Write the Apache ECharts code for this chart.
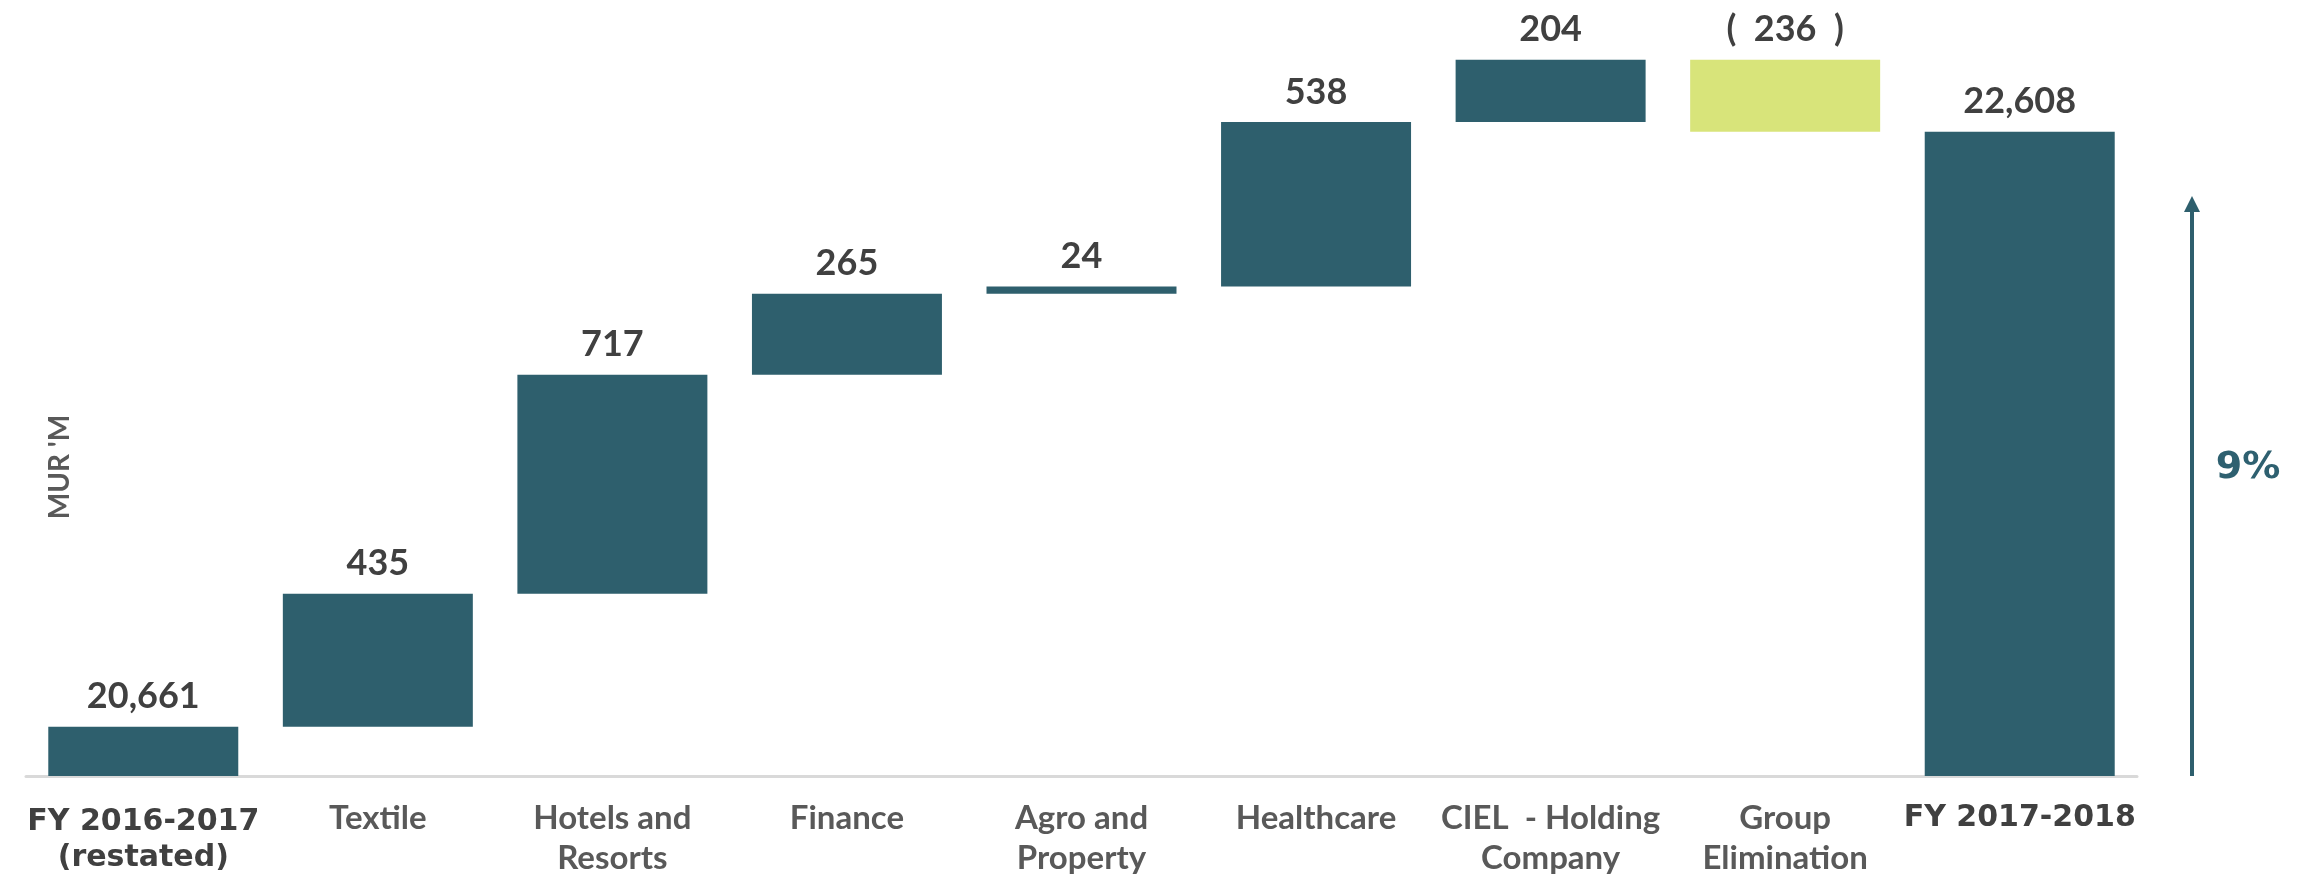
<!DOCTYPE html>
<html>
<head>
<meta charset="utf-8">
<script src="https://cdn.jsdelivr.net/npm/echarts@6/dist/echarts.min.js"></script>
<style>
  html, body { margin: 0; padding: 0; background: #fff; }
  #chart { width: 2308px; height: 883px; }
</style>
</head>
<body>
<div id="chart"></div>
<script>
// data
const categories = ['FY 2016-2017\n(restated)', 'Textile', 'Hotels and\nResorts', 'Finance', 'Agro and\nProperty', 'Healthcare', 'CIEL  - Holding\nCompany', 'Group\nElimination', 'FY 2017-2018']
const startTotal = 20661
const changes = [435, 717, 265, 24, 538, 204, -236]
const endTotal = 22608

const teal = '#2E5F6D'
const lime = '#D8E47A'

// build the waterfall (invisible base + visible piece)
const baseData = [0]
const pieceData = [{ value: startTotal, label: startTotal.toLocaleString('en-US'), itemStyle: { color: teal } }]
let running = startTotal
changes.forEach((c) => {
  if (c >= 0) {
    baseData.push(running)
    pieceData.push({ value: c, label: String(c), itemStyle: { color: teal } })
  } else {
    baseData.push(running + c)
    pieceData.push({ value: -c, label: '(  ' + (-c) + '  )', itemStyle: { color: lime } })
  }
  running += c
})
baseData.push(0)
pieceData.push({ value: endTotal, label: endTotal.toLocaleString('en-US'), itemStyle: { color: teal } })

const chart = echarts.init(document.getElementById('chart'))

const lastIdx = categories.length - 1

const options = {
  animation: false,
  grid: { left: 26, right: 171, top: 12, bottom: 107 },
  xAxis: {
    type: 'category',
    data: categories,
    axisLine: { lineStyle: { color: '#D9D9D9', width: 3 } },
    axisTick: { length: 11, lineStyle: { color: '#D9D9D9', width: 2 } },
    axisLabel: {
      interval: 0,
      margin: 22,
      formatter: (val, idx) => {
        const st = (idx === 0 || idx === lastIdx) ? 'b' : 'n'
        return val.split('\n').map((l, i) => {
          // first category sits a bit lower in the original
          const s = (idx === 0 && i === 0) ? 'f' : st
          return '{' + s + '|' + l + '}'
        }).join('\n')
      },
      rich: {
        n: { fontFamily: 'Lato', fontWeight: 'bold', fontSize: 33, color: '#595959', lineHeight: 40 },
        b: { fontFamily: 'DejaVu Sans', fontWeight: 'bold', fontSize: 30, color: '#404040', lineHeight: 40 },
        f: { fontFamily: 'DejaVu Sans', fontWeight: 'bold', fontSize: 30, color: '#404040', lineHeight: 40, padding: [9, 0, 0, 0] }
      }
    }
  },
  yAxis: {
    type: 'value',
    min: 20500,
    max: 23000,
    show: false,
    splitLine: { show: false }
  },
  series: [
    {
      type: 'bar',
      stack: 'wf',
      silent: true,
      clip: true,
      barCategoryGap: '19%',
      itemStyle: { color: 'rgba(0,0,0,0)' },
      data: baseData
    },
    {
      type: 'bar',
      stack: 'wf',
      clip: true,
      barCategoryGap: '19%',
      label: {
        show: true,
        position: 'top',
        distance: 12,
        fontFamily: 'Lato',
        fontWeight: 'bold',
        fontSize: 36,
        color: '#404040',
        formatter: (p) => pieceData[p.dataIndex].label
      },
      data: pieceData.map((d) => ({ value: d.value, itemStyle: d.itemStyle }))
    }
  ],
  graphic: [
    {
      type: 'text',
      x: 60,
      y: 467,
      rotation: Math.PI / 2,
      style: {
        text: "MUR 'M",
        fontFamily: 'Lato',
        fontWeight: 'bold',
        fontSize: 28,
        fill: '#595959',
        textAlign: 'center',
        textVerticalAlign: 'middle'
      }
    },
    {
      type: 'line',
      shape: { x1: 2192, y1: 776, x2: 2192, y2: 208 },
      style: { stroke: teal, lineWidth: 4 }
    },
    {
      type: 'polygon',
      shape: { points: [[2184, 212], [2200, 212], [2192, 196]] },
      style: { fill: teal }
    },
    {
      type: 'text',
      x: 2248,
      y: 468,
      style: {
        text: '9%',
        fontFamily: 'DejaVu Sans',
        fontWeight: 'bold',
        fontSize: 38,
        fill: '#2E6070',
        textAlign: 'center',
        textVerticalAlign: 'middle'
      }
    }
  ]
}

chart.setOption(options)
</script>
</body>
</html>
